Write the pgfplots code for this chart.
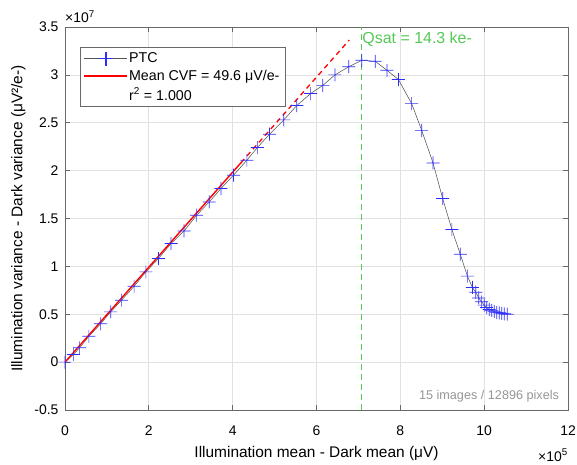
\documentclass[border=0pt]{standalone}
\usepackage{pgfplots}
\pgfplotsset{compat=1.18}
\usepackage{fontspec}
\setmainfont{Liberation Sans}
\definecolor{axgray}{RGB}{105,105,105}
\definecolor{gridgray}{RGB}{225,225,225}
\definecolor{qgreen}{RGB}{85,200,85}
\definecolor{ptcline}{RGB}{85,85,85}
\definecolor{markblue}{RGB}{45,45,255}
\definecolor{fitred}{RGB}{255,0,0}
\definecolor{annogray}{RGB}{150,150,150}
\pgfdeclareplotmark{fplus}{%
  \pgfpathrectangle{\pgfpoint{-\pgfplotmarksize}{-0.33bp}}{\pgfpoint{2\pgfplotmarksize}{0.66bp}}%
  \pgfpathrectangle{\pgfpoint{-0.33bp}{-\pgfplotmarksize}}{\pgfpoint{0.66bp}{2\pgfplotmarksize}}%
  \pgfusepathqfill}
\pgfplotstableread{
x y
0 0
0.20 0.08
0.35 0.15
0.57 0.27
0.85 0.40
1.09 0.525
1.35 0.647
1.65 0.793
1.93 0.943
2.23 1.082
2.53 1.239
2.84 1.37
3.14 1.534
3.44 1.673
3.72 1.813
4.02 1.952
4.34 2.109
4.59 2.241
4.88 2.38
5.22 2.53
5.53 2.68
5.86 2.805
6.15 2.89
6.44 3.00
6.77 3.085
7.08 3.152
7.40 3.142
7.68 3.048
7.955 2.951
8.27 2.70
8.51 2.42
8.78 2.08
9.01 1.709
9.23 1.385
9.43 1.127
9.60 0.898
9.72 0.78
9.80 0.73
9.87 0.67
9.94 0.63
10.00 0.595
10.06 0.57
10.12 0.55
10.18 0.54
10.24 0.53
10.30 0.52
10.36 0.515
10.42 0.51
10.48 0.505
10.55 0.50
}\ptcdata
\begin{document}
\begin{tikzpicture}
\begin{axis}[
  scale only axis, width=503bp, height=383bp,
  xmin=0, xmax=12, ymin=-0.5, ymax=3.5,
  xtick={0,2,4,6,8,10,12}, xticklabels={},
  ytick={-0.5,0,0.5,1,1.5,2,2.5,3,3.5},
  yticklabels={-0.5,0,0.5,1,1.5,2,2.5,3,3.5},
  grid=major, major grid style={gridgray, line width=0.7bp},
  axis line style={axgray, line width=0.7bp},
  tick style={axgray, line width=0.7bp}, tick align=inside, major tick length=5bp,
  ticklabel style={font=\fontsize{14}{16}\selectfont},
  yticklabel style={xshift=-3bp},
  /pgf/number format/assume math mode=true,
  xlabel={Illumination mean - Dark mean (μV)},
  ylabel={Illumination variance - Dark variance (μV²/e-)},
  label style={font=\fontsize{15.5}{18}\selectfont},
  xlabel style={at={(rel axis cs:0.5,0)}, anchor=base, yshift=-47bp},
  ylabel shift=2bp,
  legend style={at={(0.03,0.947)}, anchor=north west, font=\fontsize{14.3}{17}\selectfont,
    draw=axgray, line width=0.7bp, inner xsep=4bp, inner ysep=3bp,
    row sep=2bp, cells={anchor=west}},
  legend cell align=left,
]
\addplot[ptcline, line width=0.55bp, forget plot] table[x=x,y=y] {\ptcdata};
\addplot[markblue, only marks, mark=fplus, mark size=6.5bp, forget plot] table[x=x,y=y] {\ptcdata};
\addplot[fitred, line width=1.4bp, forget plot] coordinates {(0,0) (4.2,2.083)};
\addplot[fitred, line width=1.3bp, dash pattern=on 5bp off 4bp, forget plot] coordinates {(4.2,2.083) (6.78,3.363)};
\addplot[qgreen, line width=1bp, dash pattern=on 6bp off 4bp, forget plot] coordinates {(7.08,-0.5) (7.08,3.5)};
\addlegendimage{legend image code/.code={
  \fill[ptcline] (0bp,-0.28bp) rectangle (42bp,0.28bp);
  \fill[markblue] (20.67bp,-6.5bp) rectangle (21.33bp,6.5bp);
  \fill[markblue] (14.5bp,-0.33bp) rectangle (27.5bp,0.33bp);}}
\addlegendentry{PTC}
\addlegendimage{legend image code/.code={
  \fill[fitred] (0bp,-0.7bp) rectangle (42bp,0.7bp);}}
\addlegendentry{Mean CVF = 49.6 μV/e-}
\addlegendimage{empty legend}
\addlegendentry{r\textsuperscript{2} = 1.000}
\node[color=qgreen, anchor=west, inner sep=0.5bp, font=\fontsize{16}{18}\selectfont] at (axis cs:7.08,3.37) {Qsat = 14.3 ke-};
\node[color=annogray, anchor=east, inner sep=0bp, font=\fontsize{12.7}{14}\selectfont] at (axis cs:11.79,-0.36) {15 images / 12896 pixels};
\coordinate (sw) at (rel axis cs:0,0);
\coordinate (ne) at (rel axis cs:1,1);
\end{axis}
\foreach \v in {0,2,4,6,8,10,12}
  \node[anchor=base, inner sep=0bp, font=\fontsize{14}{16}\selectfont] at ([xshift={\v*41.9167bp}, yshift=-25bp]sw) {\v};
\node[anchor=south west, inner sep=0bp, font=\fontsize{14}{16}\selectfont] at ([yshift=4bp]ne -| sw) {×10\textsuperscript{7}};
\node[anchor=base east, inner sep=0bp, font=\fontsize{14}{16}\selectfont] at ([yshift=-51bp]sw -| ne) {×10\textsuperscript{5}};
\path ([shift={(-65bp,-55bp)}]sw) rectangle ([shift={(9bp,27bp)}]ne);
\end{tikzpicture}
\end{document}
